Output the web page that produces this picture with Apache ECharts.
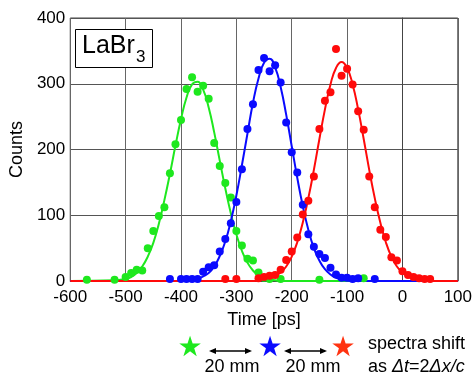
<!DOCTYPE html>
<html>
<head>
<meta charset="utf-8">
<script src="https://cdn.jsdelivr.net/npm/echarts@6/dist/echarts.min.js"></script>
<style>
  html, body { margin: 0; padding: 0; background: #fff; }
  #chart { width: 475px; height: 375px; }
</style>
</head>
<body>
<div id="chart"></div>
<script>
// measured points (time in ps, counts)
const greenX = [-570, -520, -500, -490, -480, -470, -460, -450, -440, -430, -420, -410, -400, -390, -380, -370, -360, -350, -340, -330, -320, -310, -300, -290, -280, -270, -260, -250, -240, -220, -150, -70];
const greenY = [2, 2, 6, 12, 17, 16, 50, 76, 99, 112, 164, 208, 245, 292, 310, 288, 297, 277, 210, 175, 149, 127, 76, 54, 34, 31, 13, 5, 3, 3, 2, 4];

const blueX = [-420, -400, -390, -380, -370, -360, -350, -340, -330, -320, -310, -300, -290, -280, -270, -260, -250, -240, -230, -220, -210, -200, -190, -180, -170, -160, -150, -140, -130, -120, -110, -100, -90, -80, -50];
const blueY = [3, 3, 3, 3, 3, 14, 21, 24, 45, 64, 88, 120, 170, 231, 269, 321, 339, 319, 328, 302, 241, 196, 165, 116, 71, 52, 41, 35, 20, 10, 5, 5, 3, 4, 3];

const redX = [-320, -300, -260, -250, -240, -230, -220, -210, -200, -190, -180, -170, -160, -150, -140, -130, -120, -110, -100, -90, -80, -70, -60, -50, -40, -30, -20, -10, 0, 10, 20, 30, 40, 50];
const redY = [3, 3, 4, 6, 8, 9, 17, 32, 45, 66, 101, 122, 159, 231, 274, 287, 353, 312, 323, 299, 258, 230, 159, 112, 78, 67, 36, 31, 15, 9, 6, 4, 3, 3];

// fitted curves
const greenFitX = [-600, -520, -510, -500, -490, -480, -470, -460, -450, -440, -430, -420, -410, -400, -390, -380, -370, -360, -350, -340, -330, -320, -310, -300, -290, -280, -270, -260, -250, -240, -230, -220, 100];
const greenFitY = [0, 1, 2, 3, 6, 12, 22, 37, 58, 87, 123, 163, 206, 246, 279, 299, 303, 291, 264, 226, 183, 141, 103, 71, 46, 28, 16, 9, 4, 2, 1, 0, 0];

const blueFitX = [-600, -400, -390, -380, -370, -360, -350, -340, -330, -320, -310, -300, -290, -280, -270, -260, -250, -240, -230, -220, -210, -200, -190, -180, -170, -160, -150, -140, -130, -120, -110, -100, -90, 100];
const blueFitY = [0, 0, 1, 2, 3, 7, 12, 22, 38, 60, 91, 130, 176, 224, 271, 308, 332, 338, 325, 295, 253, 205, 157, 114, 78, 50, 31, 18, 10, 5, 2, 1, 0, 0];

const redFitX = [-600, -270, -260, -250, -240, -230, -220, -210, -200, -190, -180, -170, -160, -150, -140, -130, -120, -110, -100, -90, -80, -70, -60, -50, -40, -30, -20, -10, 0, 10, 20, 30, 40, 50, 100];
const redFitY = [0, 0, 1, 2, 4, 7, 13, 22, 37, 59, 89, 126, 169, 216, 261, 299, 324, 333, 324, 299, 261, 216, 169, 126, 89, 59, 37, 22, 13, 7, 4, 2, 1, 0, 0];

const GREEN = '#1ee81e';
const BLUE = '#0a0aff';
const RED = '#ff0a0a';
const FONT = '"Liberation Sans", Arial, sans-serif';

const zip = (xs, ys) => xs.map((x, i) => [x, ys[i]]);

const chart = echarts.init(document.getElementById('chart'));

const fit = (xs, ys, color) => ({
  type: 'line',
  data: zip(xs, ys),
  smooth: true,
  showSymbol: false,
  silent: true,
  lineStyle: { color: color, width: 2 },
  z: 2
});
const dots = (xs, ys, color) => ({
  type: 'scatter',
  data: zip(xs, ys),
  symbolSize: 8,
  itemStyle: { color: color, opacity: 1 },
  z: 3
});

// double-headed arrow pieces
const arrow = (x1, x2, y) => [
  { type: 'line', shape: { x1: x1 + 2, y1: y, x2: x2 - 2, y2: y }, style: { stroke: '#000', lineWidth: 1.5 } },
  { type: 'polygon', shape: { points: [[x1, y], [x1 + 7, y - 3], [x1 + 7, y + 3]] }, style: { fill: '#000' } },
  { type: 'polygon', shape: { points: [[x2, y], [x2 - 7, y - 3], [x2 - 7, y + 3]] }, style: { fill: '#000' } }
];

const options = {
  animation: false,
  textStyle: { fontFamily: FONT },
  grid: {
    left: 63, top: 18, width: 396, height: 263,
    show: true, borderColor: '#444', borderWidth: 1
  },
  xAxis: {
    type: 'value',
    min: -600, max: 100, interval: 100,
    name: 'Time [ps]',
    nameLocation: 'middle',
    nameGap: 26,
    nameTextStyle: { color: '#000', fontSize: 18, fontFamily: FONT },
    axisLine: { lineStyle: { color: '#444' } },
    axisTick: { show: false },
    axisLabel: { color: '#000', fontSize: 17, margin: 8, fontFamily: FONT },
    splitLine: { lineStyle: { color: '#666', width: 1 } }
  },
  yAxis: {
    type: 'value',
    min: 0, max: 400, interval: 100,
    name: 'Counts',
    nameLocation: 'middle',
    nameRotate: 90,
    nameGap: 37,
    nameTextStyle: { color: '#000', fontSize: 18, fontFamily: FONT },
    axisLine: { show: true, lineStyle: { color: '#444' } },
    axisTick: { show: false },
    axisLabel: { color: '#000', fontSize: 17, margin: 5, fontFamily: FONT },
    splitLine: { lineStyle: { color: '#555', width: 1 } }
  },
  series: [
    fit(greenFitX, greenFitY, GREEN),
    fit(blueFitX, blueFitY, BLUE),
    fit(redFitX, redFitY, RED),
    dots(greenX, greenY, GREEN),
    dots(blueX, blueY, BLUE),
    dots(redX, redY, RED)
  ],
  graphic: [
    { type: 'rect', shape: { x: 75.5, y: 29.5, width: 77, height: 38 }, style: { fill: '#fff', stroke: '#000', lineWidth: 1 }, z: 10 },
    { type: 'text', left: 82, top: 34, style: { text: 'LaBr', fontSize: 25, fontFamily: FONT, fill: '#000' }, z: 11 },
    { type: 'text', left: 136, top: 49, style: { text: '3', fontSize: 17, fontFamily: FONT, fill: '#000' }, z: 11 },

    { type: 'text', x: 190, y: 349, style: { text: '★', fontSize: 28, fill: GREEN, align: 'center', verticalAlign: 'middle', fontFamily: '"DejaVu Sans"' } },
    { type: 'text', x: 270, y: 349, style: { text: '★', fontSize: 28, fill: BLUE, align: 'center', verticalAlign: 'middle', fontFamily: '"DejaVu Sans"' } },
    { type: 'text', x: 343, y: 349, style: { text: '★', fontSize: 28, fill: '#ff3311', align: 'center', verticalAlign: 'middle', fontFamily: '"DejaVu Sans"' } },
    ...arrow(209, 252, 351),
    ...arrow(284, 327, 351),
    { type: 'text', x: 232, y: 367, style: { text: '20 mm', fontSize: 18, fontFamily: FONT, fill: '#000', align: 'center', verticalAlign: 'middle' } },
    { type: 'text', x: 313, y: 367, style: { text: '20 mm', fontSize: 18, fontFamily: FONT, fill: '#000', align: 'center', verticalAlign: 'middle' } },
    { type: 'text', x: 368, y: 344, style: { text: 'spectra shift', fontSize: 18, fontFamily: FONT, fill: '#000', verticalAlign: 'middle' } },
    {
      type: 'text', x: 368, y: 367,
      style: {
        text: 'as {i|Δt}=2{i|Δx/c}',
        fontSize: 18, fontFamily: FONT, fill: '#000', verticalAlign: 'middle',
        rich: { i: { fontSize: 18, fontStyle: 'italic', fontFamily: FONT } }
      }
    }
  ]
};

chart.setOption(options);
window.addEventListener('resize', () => chart.resize());
</script>
</body>
</html>
